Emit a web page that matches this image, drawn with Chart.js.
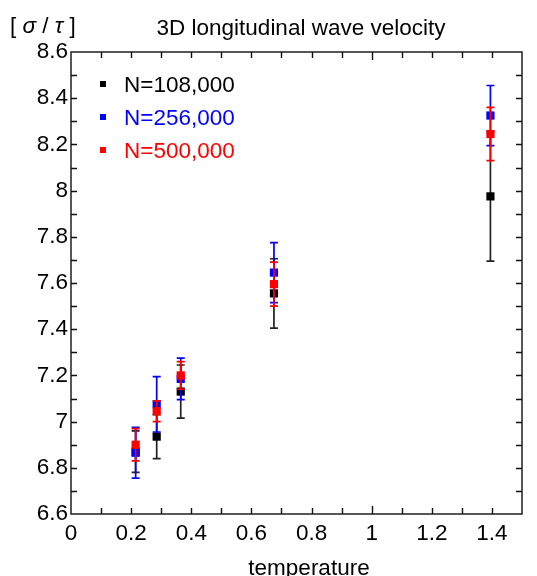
<!DOCTYPE html>
<html>
<head>
<title>3D longitudinal wave velocity</title>
<script src="https://cdn.jsdelivr.net/npm/chart.js"></script>
<style>
  body { margin: 0; background: #fff; }
  #wrap { width: 537px; height: 576px; }
</style>
</head>
<body>
<div id="wrap"><canvas id="velocityChart" width="537" height="576"></canvas></div>
<script>
// values
const temperature = [0.215, 0.285, 0.365, 0.675, 1.395];
const seriesLabels = ['N=108,000', 'N=256,000', 'N=500,000'];
const v108 = [6.87, 6.935, 7.13, 7.555, 7.975];
const err108 = [0.09, 0.095, 0.115, 0.15, 0.28];
const v256 = [6.865, 7.075, 7.185, 7.645, 8.325];
const err256 = [0.11, 0.12, 0.09, 0.13, 0.13];
const v500 = [6.9, 7.045, 7.2, 7.595, 8.245];
const err500 = [0.07, 0.045, 0.06, 0.095, 0.115];
const xTicks = [0, 0.2, 0.4, 0.6, 0.8, 1, 1.2, 1.4];
const yTicks = [6.6, 6.8, 7, 7.2, 7.4, 7.6, 7.8, 8, 8.2, 8.4, 8.6];

const FONT = "'Liberation Sans', Arial, Helvetica, sans-serif";
const FS = 22.5;
const colors = ['#000000', '#0000ff', '#ff0000'];

function makeSet(i, vals, errs, order) {
  return {
    label: seriesLabels[i],
    data: temperature.map((t, k) => ({ x: t, y: vals[k] })),
    errors: errs,
    backgroundColor: colors[i],
    borderColor: colors[i],
    pointStyle: 'rect',
    pointRadius: 5.8,
    pointHoverRadius: 5.8,
    borderWidth: 0,
    order: order
  };
}

// error bars drawn just before each dataset's markers
const errorBars = {
  id: 'errorBars',
  beforeDatasetDraw(chart, args) {
    const ds = chart.data.datasets[args.index];
    const xs = chart.scales.x, ys = chart.scales.y;
    const ctx = chart.ctx;
    ctx.save();
    ctx.strokeStyle = ds.borderColor === '#000000' ? '#222' : ds.borderColor;
    ctx.lineWidth = 1.7;
    ds.data.forEach((p, k) => {
      const px = xs.getPixelForValue(p.x);
      const top = ys.getPixelForValue(p.y + ds.errors[k]);
      const bot = ys.getPixelForValue(p.y - ds.errors[k]);
      ctx.beginPath();
      ctx.moveTo(px, top); ctx.lineTo(px, bot);
      ctx.moveTo(px - 4, top); ctx.lineTo(px + 4, top);
      ctx.moveTo(px - 4, bot); ctx.lineTo(px + 4, bot);
      ctx.stroke();
    });
    ctx.restore();
  }
};

// box frame with inward ticks, legend, titles
const decorations = {
  id: 'decorations',
  afterDraw(chart) {
    const ctx = chart.ctx;
    const a = chart.chartArea;
    const xs = chart.scales.x, ys = chart.scales.y;
    ctx.save();
    ctx.strokeStyle = '#111';
    ctx.lineWidth = 1.4;
    ctx.strokeRect(a.left, a.top, a.right - a.left, a.bottom - a.top);
    ctx.beginPath();
    for (let i = 1; i < 15; i++) {
      const px = Math.round(xs.getPixelForValue(i / 10)) + 0.5;
      const len = i === 10 ? 8 : 6;
      ctx.moveTo(px, a.bottom); ctx.lineTo(px, a.bottom - len);
      ctx.moveTo(px, a.top); ctx.lineTo(px, a.top + len);
    }
    for (let k = 67; k < 86; k++) {
      const py = Math.round(ys.getPixelForValue(k / 10)) + 0.5;
      ctx.moveTo(a.left, py); ctx.lineTo(a.left + 6, py);
      ctx.moveTo(a.right, py); ctx.lineTo(a.right - 6, py);
    }
    ctx.stroke();

    // legend inside the plot
    ctx.font = FS + 'px ' + FONT;
    ctx.textAlign = 'left';
    ctx.textBaseline = 'alphabetic';
    chart.data.datasets.forEach((ds, i) => {
      const y = a.top + 32 + i * 33;
      ctx.fillStyle = ds.backgroundColor;
      ctx.fillRect(a.left + 29, y - 3, 6, 6);
      ctx.fillText(ds.label, a.left + 53, y + 8);
    });

    // title
    ctx.fillStyle = '#000';
    ctx.textAlign = 'center';
    ctx.fillText('3D longitudinal wave velocity', 301, 35);

    // x title
    ctx.fillText('temperature', 309, 575);

    // y unit label
    ctx.textAlign = 'left';
    let x = 10;
    const parts = [['[ ', false], ['\u03C3', true], [' / ', false], ['\u03C4', true], [' ]', false]];
    parts.forEach(([t, it]) => {
      ctx.font = (it ? 'italic ' : '') + FS + 'px ' + FONT;
      ctx.fillText(t, x, 33);
      x += ctx.measureText(t).width;
    });
    ctx.restore();
  }
};

new Chart(document.getElementById('velocityChart'), {
  type: 'scatter',
  data: {
    datasets: [
      makeSet(0, v108, err108, 2),
      makeSet(1, v256, err256, 1),
      makeSet(2, v500, err500, 0)
    ]
  },
  options: {
    responsive: false,
    animation: false,
    layout: { padding: { top: 52, right: 15, left: 0, bottom: 0 } },
    plugins: {
      legend: { display: false },
      tooltip: { enabled: false }
    },
    scales: {
      x: {
        type: 'linear',
        min: 0,
        max: 1.5,
        afterBuildTicks: s => { s.ticks = xTicks.map(v => ({ value: v })); },
        afterFit: s => { s.height = 62; },
        grid: { display: false, drawTicks: false },
        border: { display: false },
        ticks: {
          color: '#000',
          font: { family: FONT, size: FS },
          padding: 6,
          maxRotation: 0,
          callback: v => String(v)
        }
      },
      y: {
        min: 6.6,
        max: 8.6,
        afterBuildTicks: s => { s.ticks = yTicks.map(v => ({ value: v })); },
        afterFit: s => { s.width = 71; },
        grid: { display: false, drawTicks: false },
        border: { display: false },
        ticks: {
          color: '#000',
          font: { family: FONT, size: FS },
          padding: 3,
          callback: v => String(v)
        }
      }
    }
  },
  plugins: [errorBars, decorations]
});
</script>
</body>
</html>
